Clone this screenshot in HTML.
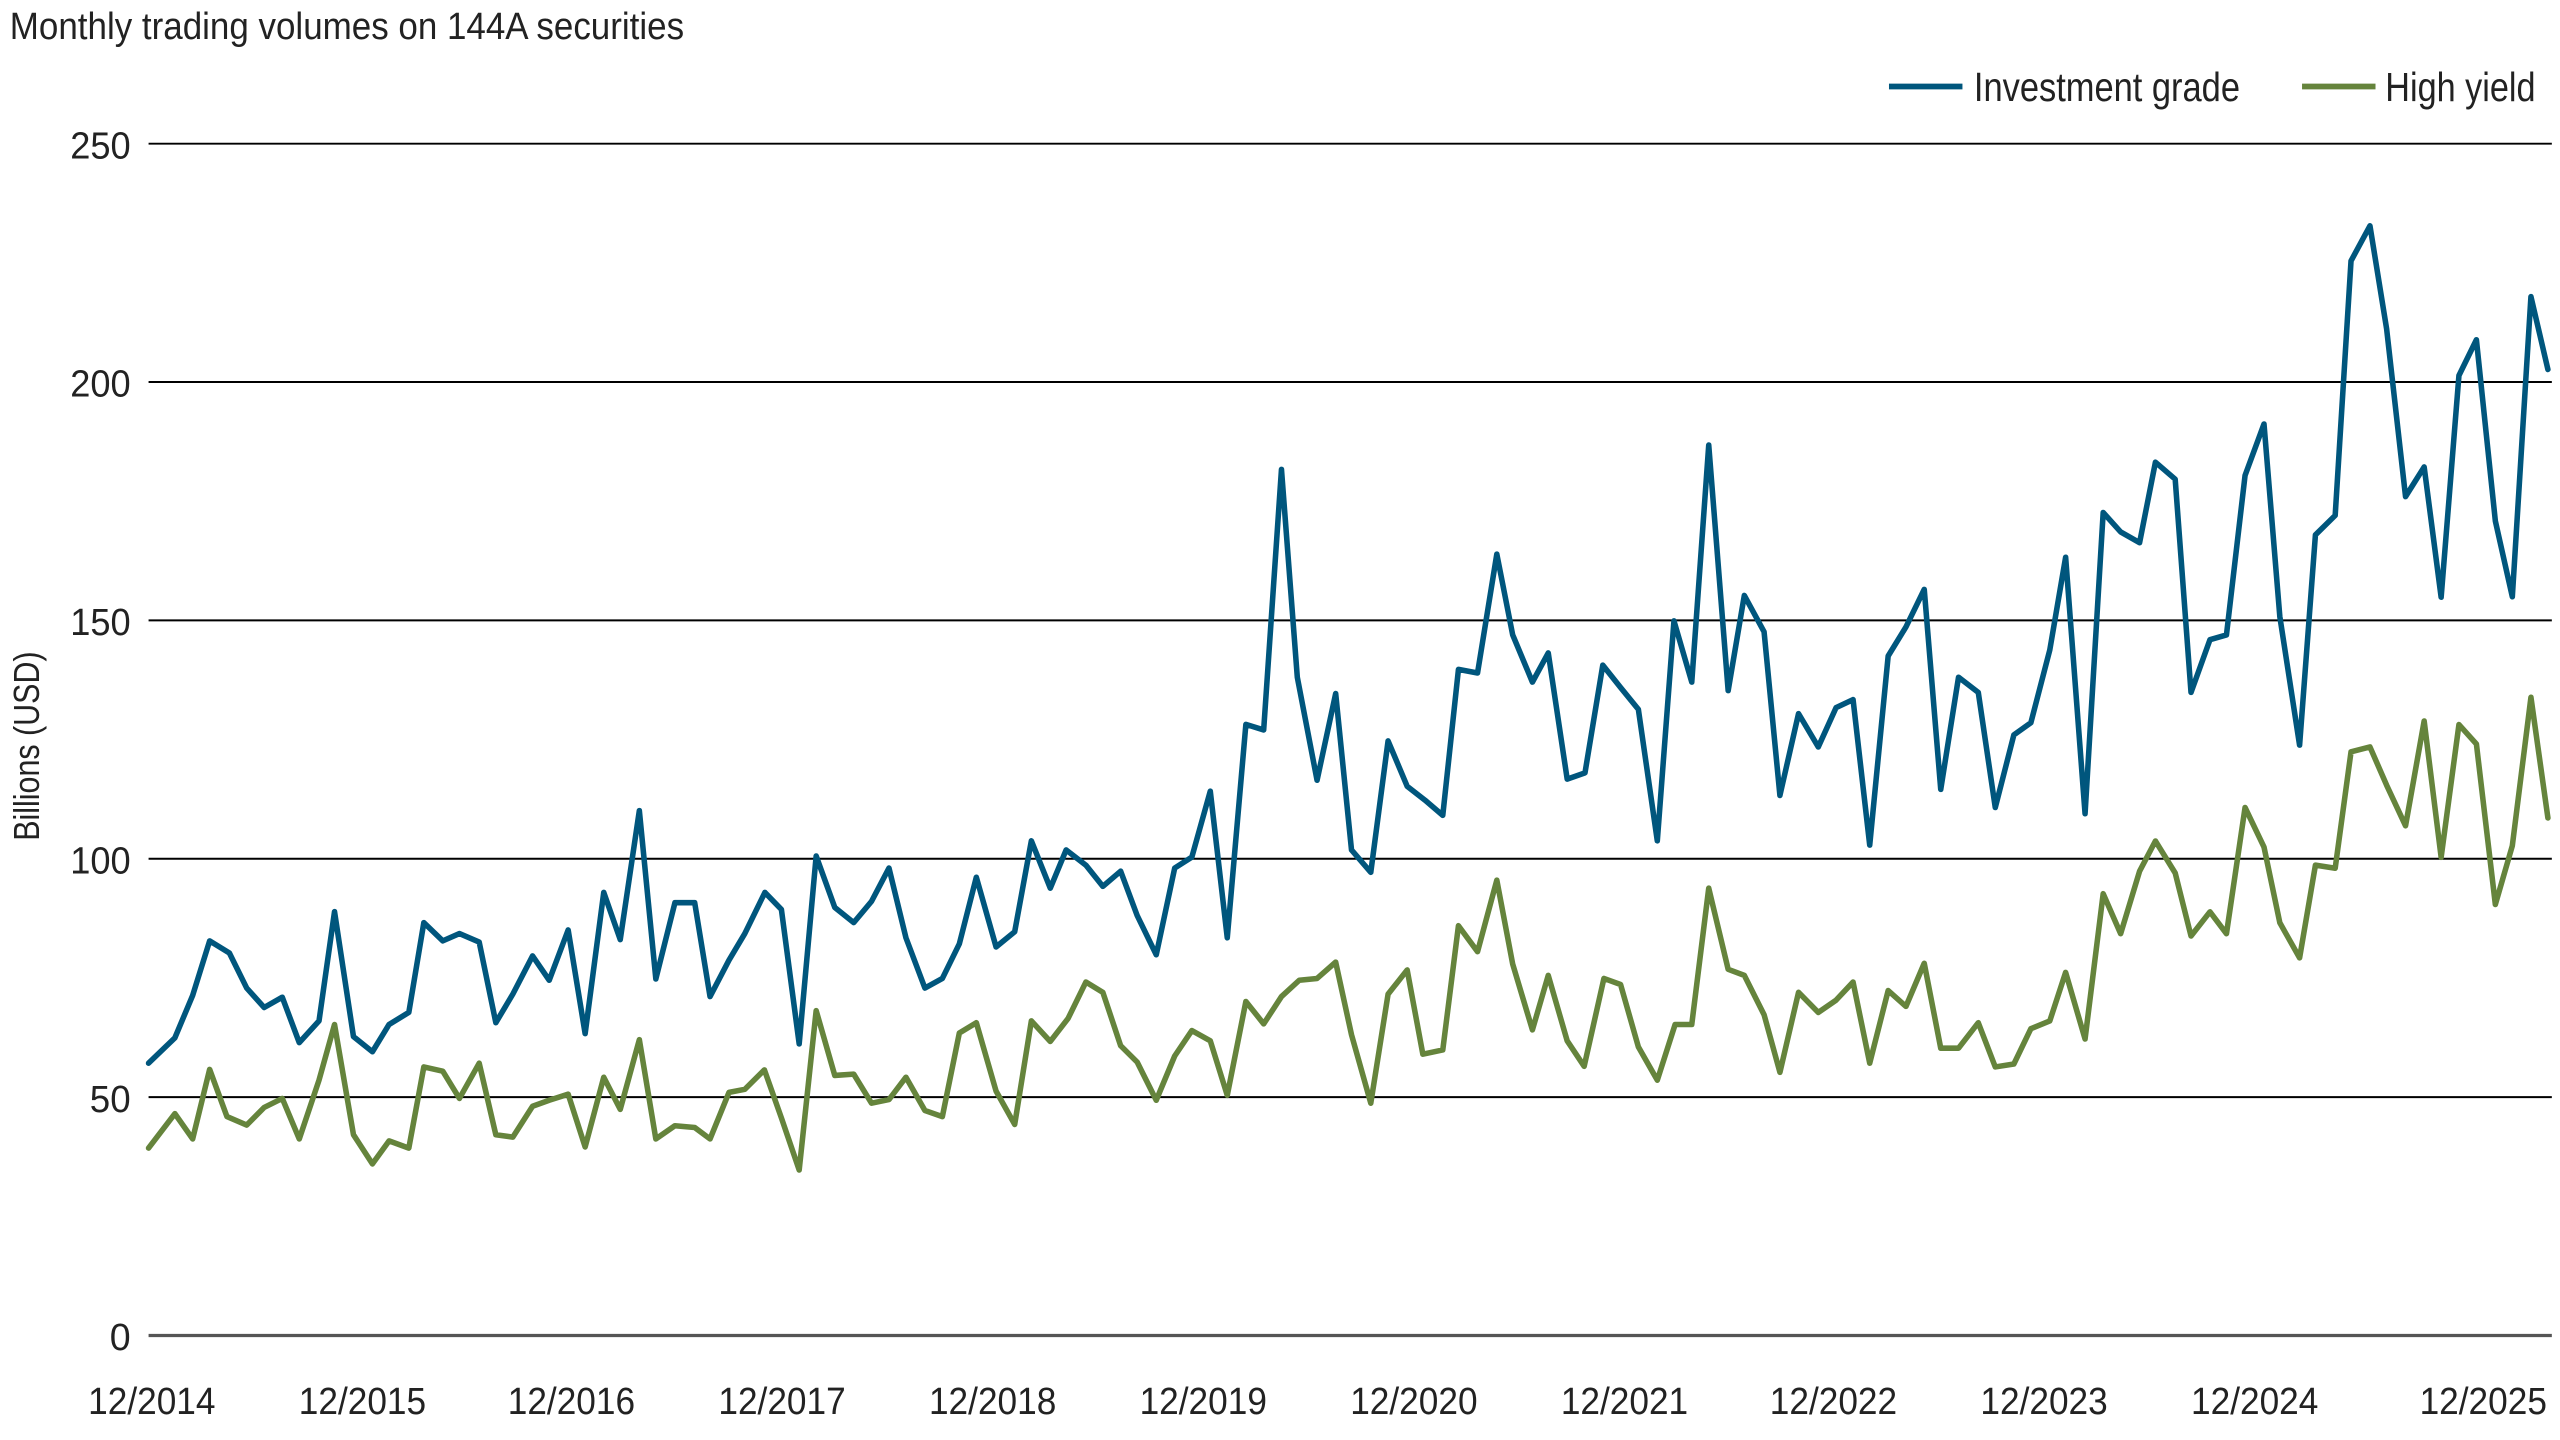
<!DOCTYPE html>
<html><head><meta charset="utf-8"><style>
html,body{margin:0;padding:0;background:#fff;}
svg{display:block;}
text{font-family:"Liberation Sans Narrow","Liberation Sans",sans-serif;fill:#222;}
</style></head><body>
<svg id="c" width="2560" height="1440" viewBox="0 0 1568 882" xmlns="http://www.w3.org/2000/svg">
<text x="6" y="24" font-size="23" textLength="413" lengthAdjust="spacingAndGlyphs">Monthly trading volumes on 144A securities</text>
<line x1="1157" y1="53" x2="1202" y2="53" stroke="#00567d" stroke-width="3.5"/>
<text x="1209" y="62" font-size="25" textLength="163" lengthAdjust="spacingAndGlyphs">Investment grade</text>
<line x1="1410" y1="53" x2="1455" y2="53" stroke="#65843c" stroke-width="3.5"/>
<text x="1461" y="62" font-size="25" textLength="92" lengthAdjust="spacingAndGlyphs">High yield</text>
<g stroke="#000" stroke-width="1.2">
<line x1="91" y1="88" x2="1563" y2="88"/>
<line x1="91" y1="234" x2="1563" y2="234"/>
<line x1="91" y1="380" x2="1563" y2="380"/>
<line x1="91" y1="526" x2="1563" y2="526"/>
<line x1="91" y1="672" x2="1563" y2="672"/>
</g>
<line x1="91" y1="818" x2="1563" y2="818" stroke="#555" stroke-width="2"/>
<g font-size="23" text-anchor="end">
<text x="80" y="97" textLength="37" lengthAdjust="spacingAndGlyphs">250</text><text x="80" y="243" textLength="37" lengthAdjust="spacingAndGlyphs">200</text><text x="80" y="389" textLength="37" lengthAdjust="spacingAndGlyphs">150</text>
<text x="80" y="535" textLength="37" lengthAdjust="spacingAndGlyphs">100</text><text x="80" y="681" textLength="25" lengthAdjust="spacingAndGlyphs">50</text><text x="80" y="827">0</text>
</g>
<text transform="translate(24,457) rotate(-90)" font-size="22" text-anchor="middle" textLength="116" lengthAdjust="spacingAndGlyphs">Billions (USD)</text>
<g font-size="23" text-anchor="middle">
<text x="93" y="866" textLength="78" lengthAdjust="spacingAndGlyphs">12/2014</text><text x="222" y="866" textLength="78" lengthAdjust="spacingAndGlyphs">12/2015</text><text x="350" y="866" textLength="78" lengthAdjust="spacingAndGlyphs">12/2016</text>
<text x="479" y="866" textLength="78" lengthAdjust="spacingAndGlyphs">12/2017</text><text x="608" y="866" textLength="78" lengthAdjust="spacingAndGlyphs">12/2018</text><text x="737" y="866" textLength="78" lengthAdjust="spacingAndGlyphs">12/2019</text>
<text x="866" y="866" textLength="78" lengthAdjust="spacingAndGlyphs">12/2020</text><text x="995" y="866" textLength="78" lengthAdjust="spacingAndGlyphs">12/2021</text><text x="1123" y="866" textLength="78" lengthAdjust="spacingAndGlyphs">12/2022</text>
<text x="1252" y="866" textLength="78" lengthAdjust="spacingAndGlyphs">12/2023</text><text x="1381" y="866" textLength="78" lengthAdjust="spacingAndGlyphs">12/2024</text><text x="1521" y="866" textLength="78" lengthAdjust="spacingAndGlyphs">12/2025</text>
</g>
<polyline id="hy" fill="none" stroke="#65843c" stroke-width="3.4" stroke-linejoin="round" stroke-linecap="round" points=""/>
<polyline id="ig" fill="none" stroke="#00567d" stroke-width="3.4" stroke-linejoin="round" stroke-linecap="round" points=""/>
</svg>
<script>
var Z=[
 {ox:85.75,oy:153.1,
  ig:[[25,1342],[45,1330],[88,1300],[133,1230],[176,1140],[226,1160],[270,1218],[314,1250],[360,1233],[403,1308],[453,1272],[492,1092],[540,1298],[588,1323],[630,1278],[680,1258],[718,1110],[766,1140],[808,1128],[858,1142],[900,1275],[943,1228],[993,1165],[1035,1205],[1083,1122],[1126,1293],[1173,1060],[1215,1138],[1263,925],[1305,1203],[1353,1077],[1403,1077],[1442,1232],[1490,1172],[1530,1128]],
  hy:[[25,1482],[45,1460],[88,1425],[133,1467],[176,1352],[220,1430],[270,1444],[314,1415],[360,1400],[403,1467],[453,1370],[492,1278],[540,1460],[588,1508],[630,1470],[680,1482],[718,1348],[766,1355],[808,1400],[858,1342],[900,1460],[943,1464],[993,1413],[1035,1403],[1083,1393],[1126,1480],[1173,1365],[1215,1418],[1263,1303],[1305,1467],[1353,1445],[1403,1448],[1442,1467],[1490,1390],[1530,1385]]},
 {ox:453.2,oy:153.1,
  ig:[[18,1128],[63,1060],[105,1088],[150,1310],[193,1000],[240,1085],[288,1110],[333,1075],[377,1020],[420,1135],[468,1218],[512,1202],[555,1145],[598,1035],[648,1150],[695,1125],[737,975],[785,1053],[825,990],[875,1015],[918,1050],[963,1025],[1005,1098],[1053,1163],[1100,1020],[1143,1002],[1190,893],[1233,1135],[1280,783],[1325,792],[1370,362],[1410,705],[1460,875],[1507,732],[1547,990]],
  hy:[[15,1385],[62,1353],[105,1432],[150,1518],[193,1255],[240,1362],[288,1360],[333,1408],[377,1402],[420,1365],[468,1420],[512,1430],[555,1292],[598,1275],[648,1388],[695,1443],[737,1272],[785,1306],[830,1268],[875,1208],[918,1225],[963,1313],[1005,1340],[1053,1403],[1100,1330],[1143,1288],[1190,1305],[1233,1395],[1280,1240],[1325,1277],[1370,1232],[1415,1205],[1460,1202],[1507,1175],[1547,1295]]},
 {ox:820.7,oy:153.1,
  ig:[[30,990],[78,1027],[122,810],[170,885],[215,908],[260,933],[300,692],[348,698],[397,502],[437,635],[487,713],[527,665],[575,873],[620,863],[665,685],[710,722],[755,758],[803,975],[845,612],[890,713],[933,322],[982,727],[1023,570],[1073,630],[1113,900],[1160,765],[1210,820],[1255,755],[1298,742],[1340,982],[1387,670],[1432,622],[1478,560],[1520,890],[1565,705]],
  hy:[[30,1295],[78,1408],[122,1228],[170,1188],[210,1327],[260,1320],[300,1115],[348,1158],[397,1040],[437,1178],[487,1287],[527,1197],[575,1305],[618,1347],[668,1202],[710,1212],[755,1315],[803,1370],[848,1278],[890,1278],[933,1053],[982,1187],[1023,1197],[1073,1262],[1113,1357],[1160,1225],[1210,1258],[1255,1238],[1298,1208],[1340,1342],[1387,1222],[1432,1248],[1478,1177],[1520,1317],[1565,1317]]},
 {ox:1188.2,oy:91.9,
  ig:[[5,1055],[48,870],[97,895],[140,1085],[187,965],[230,945],[278,825],[318,672],[367,1095],[413,598],[457,630],[505,648],[545,515],[595,543],[635,895],[683,808],[725,800],[772,537],[820,452],[860,770],[910,982],[950,635],[1000,603],[1040,183],[1088,125],[1130,295],[1178,572],[1225,523],[1268,738],[1313,372],[1357,313],[1405,612],[1448,737],[1495,242],[1538,362]],
  hy:[[5,1480],[48,1482],[97,1440],[140,1513],[187,1508],[230,1450],[278,1437],[318,1357],[367,1467],[413,1227],[457,1293],[505,1190],[545,1140],[595,1193],[635,1297],[683,1257],[725,1293],[772,1085],[820,1150],[860,1275],[910,1333],[950,1180],[1000,1185],[1040,993],[1088,985],[1130,1048],[1178,1115],[1225,942],[1268,1167],[1313,948],[1357,980],[1405,1245],[1448,1148],[1495,903],[1538,1102]]}
];
function build(k){
 var out=[];
 Z.forEach(function(s){s[k].forEach(function(p){
   var x=s.ox+p[0]/4.13, y=s.oy+p[1]/2.694;
   if(out.length && x-out[out.length-1][0]<5) return;
   out.push([x,y]);
 });});
 out[0][0]=91;
 return out.map(function(p){return p[0].toFixed(1)+","+p[1].toFixed(1);}).join(" ");
}
document.getElementById("ig").setAttribute("points",build("ig"));
document.getElementById("hy").setAttribute("points",build("hy"));
</script>
</body></html>
